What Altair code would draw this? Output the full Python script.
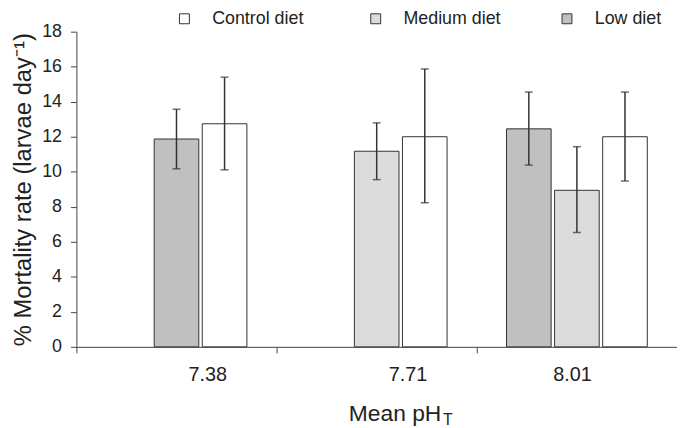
import altair as alt
import pandas as pd

# ---- data ----
ph_groups = ["7.38", "7.71", "8.01"]
ph = ["7.38", "7.38", "7.71", "7.71", "8.01", "8.01", "8.01"]
diet = ["Low diet", "Control diet", "Medium diet", "Control diet",
        "Low diet", "Medium diet", "Control diet"]
mortality = [11.87, 12.74, 11.17, 12.0, 12.45, 8.94, 12.0]
err_low = [10.17, 10.11, 9.55, 8.23, 10.38, 6.53, 9.47]
err_high = [13.57, 15.40, 12.79, 15.87, 14.55, 11.43, 14.55]

diet_order = ["Control diet", "Medium diet", "Low diet"]
diet_colors = ["#ffffff", "#dcdcdc", "#c0c0c0"]

# slot of each bar inside its pH group (2 bars -> middle/right, 3 bars -> left/middle/right)
slots = []
for g in ph_groups:
    n = ph.count(g)
    start = 0 if n == 2 else -1
    slots.extend(range(start, start + n))

df = pd.DataFrame({
    "ph": ph, "diet": diet, "mortality": mortality,
    "lo": err_low, "hi": err_high, "slot": slots,
})

FONT = "Liberation Sans"
TXT = "#222222"
LINE = "#444444"

x_enc = alt.X(
    "ph:N",
    sort=ph_groups,
    scale=alt.Scale(paddingInner=0, paddingOuter=0),
    axis=alt.Axis(
        title="Mean pH",
        titleFont=FONT, titleFontSize=23, titleFontWeight="normal", titleColor=TXT,
        titleX=321, titleY=74, titleAlign="center", titleBaseline="alphabetic",
        labelFont=FONT, labelFontSize=20, labelColor=TXT, labelAngle=0,
        labelPadding=12,
        labelOffset={"condition": {"test": "datum.label == '8.01'", "value": -5}, "value": 31},
        tickBand="extent", tickSize=6, tickColor=LINE, domainColor=LINE,
        grid=False,
    ),
)
xoff = alt.XOffset(
    "slot:O",
    scale=alt.Scale(domain=[-1, 0, 1], paddingInner=0.072, paddingOuter=0.618),
)

y_axis = alt.Axis(
    title="% Mortality rate (larvae day⁻¹)",
    titleFont=FONT, titleFontSize=24, titleFontWeight="normal", titleColor=TXT,
    titlePadding=6,
    labelFont=FONT, labelFontSize=18, labelColor=TXT, labelPadding=9,
    labelOverlap=False, labelFlush=False,
    values=list(range(0, 19, 2)), tickSize=6, tickColor=LINE, domainColor=LINE,
    grid=False,
)
y_scale = alt.Scale(domain=[0, 18], nice=False)

bars = alt.Chart(df).mark_bar(stroke="#333333", strokeWidth=1).encode(
    x=x_enc,
    xOffset=xoff,
    y=alt.Y("mortality:Q", scale=y_scale, axis=y_axis),
    color=alt.Color(
        "diet:N",
        scale=alt.Scale(domain=diet_order, range=diet_colors),
        legend=alt.Legend(
            title=None, orient="none", direction="horizontal", columns=3,
            legendX=100, legendY=-22, symbolType="square", symbolSize=100,
            symbolStrokeColor="#333333", symbolStrokeWidth=1, symbolOpacity=1,
            labelFont=FONT, labelFontSize=18, labelColor=TXT, labelOffset=19,
            columnPadding=57, gridAlign="all",
        ),
    ),
)

rules = alt.Chart(df).mark_rule(color="#333333", strokeWidth=1.5).encode(
    x=x_enc, xOffset=xoff,
    y=alt.Y("lo:Q", scale=y_scale, axis=y_axis), y2="hi:Q",
)
cap_lo = alt.Chart(df).mark_tick(color="#333333", size=8, thickness=1.5).encode(
    x=x_enc, xOffset=xoff, y=alt.Y("lo:Q", scale=y_scale, axis=y_axis),
)
cap_hi = alt.Chart(df).mark_tick(color="#333333", size=8, thickness=1.5).encode(
    x=x_enc, xOffset=xoff, y=alt.Y("hi:Q", scale=y_scale, axis=y_axis),
)

sub_t = alt.Chart(pd.DataFrame({"t": ["T"]})).mark_text(
    font=FONT, fontSize=16, fontWeight="normal", color=TXT,
    align="left", baseline="alphabetic",
).encode(text="t:N", x=alt.value(370), y=alt.value(397))

chart = alt.layer(bars, rules, cap_lo, cap_hi, sub_t).properties(
    width=606, height=318,
    autosize=alt.AutoSizeParams(type="none"),
    padding={"left": 69, "top": 22, "right": 0, "bottom": 80},
).configure_view(stroke=None)

chart.save("out.html", embed_options={"renderer": "svg", "actions": False})
